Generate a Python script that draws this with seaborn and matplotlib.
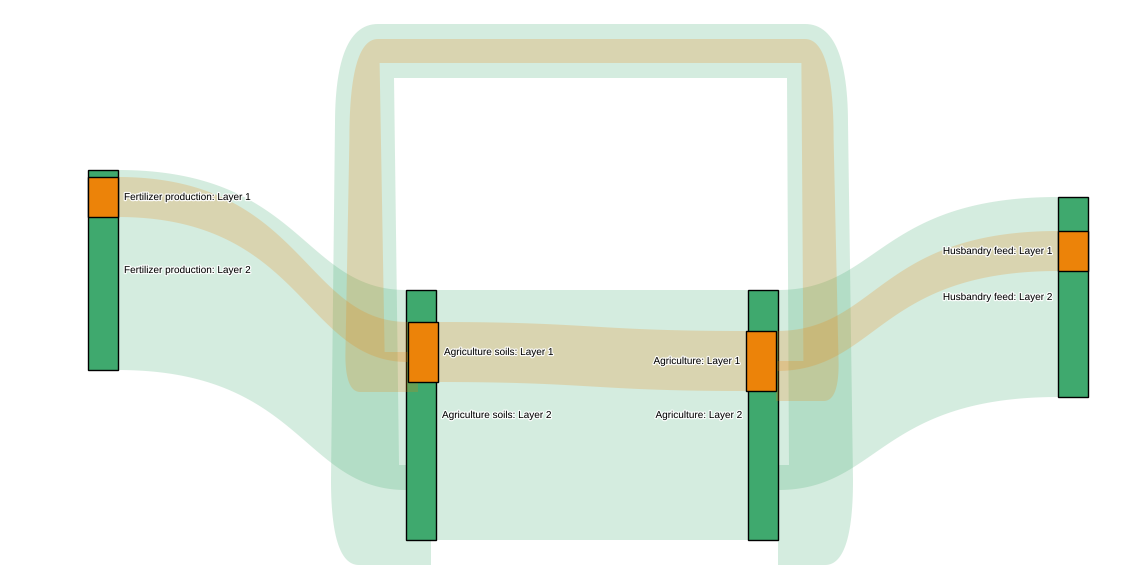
import numpy as np
import matplotlib
matplotlib.use("Agg")
import matplotlib.pyplot as plt
from matplotlib.patches import Rectangle
from matplotlib import patheffects as pe
import seaborn as sns

# ---------------- data ----------------
node_names = ["Fertilizer production", "Agriculture soils", "Agriculture", "Husbandry feed"]
layer_names = ["Layer 1", "Layer 2"]
link_sources = [0, 1, 2, 2]
link_targets = [1, 2, 3, 1]
layer1_values = [4, 6, 4, 2]
layer2_values = [20, 25, 20, 5]

# ---------------- layout ----------------
SCALE = 10.0                      # px per unit
node_x = [88, 406, 748, 1058]
node_w = 30
layer2_top = [170, 290, 290, 197]
layer1_offset = [7, 32, 41, 34]
layer1_dx = [0, 2, -2, 0]
label_right = [True, True, False, False]
link_bend = [0.64, 0.5, 0.36, None]   # None = circular link
loop_right_gap, loop_left_gap, loop_top = 40, 41, 51

sns.set_theme(style="white")
plt.rcParams["font.family"] = ["Liberation Sans", "DejaVu Sans"]

green_node = "#3fa96e"
orange_node = "#ec8309"

fig = plt.figure(figsize=(11.48, 5.85), dpi=100)
ax = fig.add_axes([0, 0, 1, 1])
ax.set_xlim(0, 1148)
ax.set_ylim(585, 0)
ax.axis("off")


def layout(values, tops, dx):
    n = len(node_names)
    hin = [0.0] * n
    hout = [0.0] * n
    for s, t, v in zip(link_sources, link_targets, values):
        hout[s] += v
        hin[t] += v
    heights = [max(a, b) * SCALE for a, b in zip(hin, hout)]
    oc = list(tops)
    ic = list(tops)
    pos = []
    for s, t, v in zip(link_sources, link_targets, values):
        h = v * SCALE
        pos.append((oc[s], ic[t], h))
        oc[s] += h
        ic[t] += h
    xl = [x + d for x, d in zip(node_x, dx)]
    return xl, heights, pos


def ribbon(x0, y0, x1, y1, h, bend, color, alpha, z):
    t = np.linspace(0, 1, 120)
    c = x0 + bend * (x1 - x0)
    bx = (1 - t) ** 3 * x0 + 3 * (1 - t) ** 2 * t * c + 3 * (1 - t) * t ** 2 * c + t ** 3 * x1

    def by(a, b):
        return (1 - t) ** 3 * a + 3 * (1 - t) ** 2 * t * a + 3 * (1 - t) * t ** 2 * b + t ** 3 * b

    top = by(y0, y1)
    bot = by(y0 + h, y1 + h)
    ax.fill(np.concatenate([bx, bx[::-1]]), np.concatenate([top, bot[::-1]]),
            color=color, alpha=alpha, lw=0, zorder=z)


def quad(p0, c, p1, n=30):
    t = np.linspace(0, 1, n)[:, None]
    p0, c, p1 = map(np.array, (p0, c, p1))
    return (1 - t) ** 2 * p0 + 2 * (1 - t) * t * c + t ** 2 * p1


def loop(xs, ys, xt, yt, w, cxr, cxl, cyt, color, alpha, z):
    hs = 0.48 * w + 7
    ht = 0.5 * w + 2
    he = w
    rxt, ryt = hs + 12, 100
    rxb, ryb = 0.9 * hs, 1.6 * w + 5
    xRo_b, xRo_t = cxr + hs + 4, cxr + hs - 1
    xRi_t, xRi_b = cxr - hs, cxr - hs + 2
    xLo_t, xLo_b = cxl - hs + 1, cxl - hs - 3
    xLi_t, xLi_b = cxl + hs - 2, cxl + hs + 3
    yto, yti = cyt - ht, cyt + ht
    pts = [np.array([[xs, ys + he]])]
    pts.append(quad((xRo_b - rxb, ys + he), (xRo_b, ys + he), (xRo_b, ys + he - ryb)))
    pts.append(quad((xRo_t, yto + ryt), (xRo_t, yto), (xRo_t - rxt, yto)))
    pts.append(quad((xLo_t + rxt, yto), (xLo_t, yto), (xLo_t, yto + ryt)))
    pts.append(quad((xLo_b, yt + he - ryb), (xLo_b, yt + he), (xLo_b + rxb, yt + he)))
    pts.append(np.array([[xt + w / 2, yt + he], [xt + w / 2, yt - he],
                         [xLi_b, yt - he], [xLi_t, yti], [xRi_t, yti],
                         [xRi_b, ys - he], [xs, ys - he]]))
    P = np.vstack(pts)
    ax.fill(P[:, 0], P[:, 1], color=color, alpha=alpha, lw=0, zorder=z)


layer_specs = [
    (layer2_values, layer2_top, [0, 0, 0, 0], green_node, 1),
    (layer1_values, [a + b for a, b in zip(layer2_top, layer1_offset)], layer1_dx, orange_node, 3),
]

halo = [pe.withStroke(linewidth=1.8, foreground="white", alpha=0.9)]

for li, (vals, tops, dx, col, z) in enumerate(layer_specs):
    xl, heights, pos = layout(vals, tops, dx)
    cxr = node_x[2] + node_w + loop_right_gap
    cxl = node_x[1] - loop_left_gap
    for k, (s, t) in enumerate(zip(link_sources, link_targets)):
        y0, y1, h = pos[k]
        x0 = xl[s] + node_w
        x1 = xl[t]
        if link_bend[k] is None:
            loop(x0, y0 + h / 2, x1, y1 + h / 2, h, cxr, cxl, loop_top, col, 0.22, z)
        else:
            ribbon(x0, y0, x1, y1, h, link_bend[k], col, 0.22, z)
    for i in range(len(node_names)):
        ax.add_patch(Rectangle((xl[i], tops[i]), node_w, heights[i], facecolor=col,
                               edgecolor="black", lw=1.0, zorder=z + 1))
        layer_label = layer_names[1] if li == 0 else layer_names[0]
        cy = tops[i] + heights[i] / 2
        if label_right[i]:
            ax.text(xl[i] + node_w + 6, cy, f"{node_names[i]}: {layer_label}", ha="left",
                    va="center", fontsize=7.2, color="black", zorder=10, path_effects=halo)
        else:
            ax.text(xl[i] - 6, cy, f"{node_names[i]}: {layer_label}", ha="right",
                    va="center", fontsize=7.2, color="black", zorder=10, path_effects=halo)

fig.savefig("out.png", dpi=100, facecolor="white")
